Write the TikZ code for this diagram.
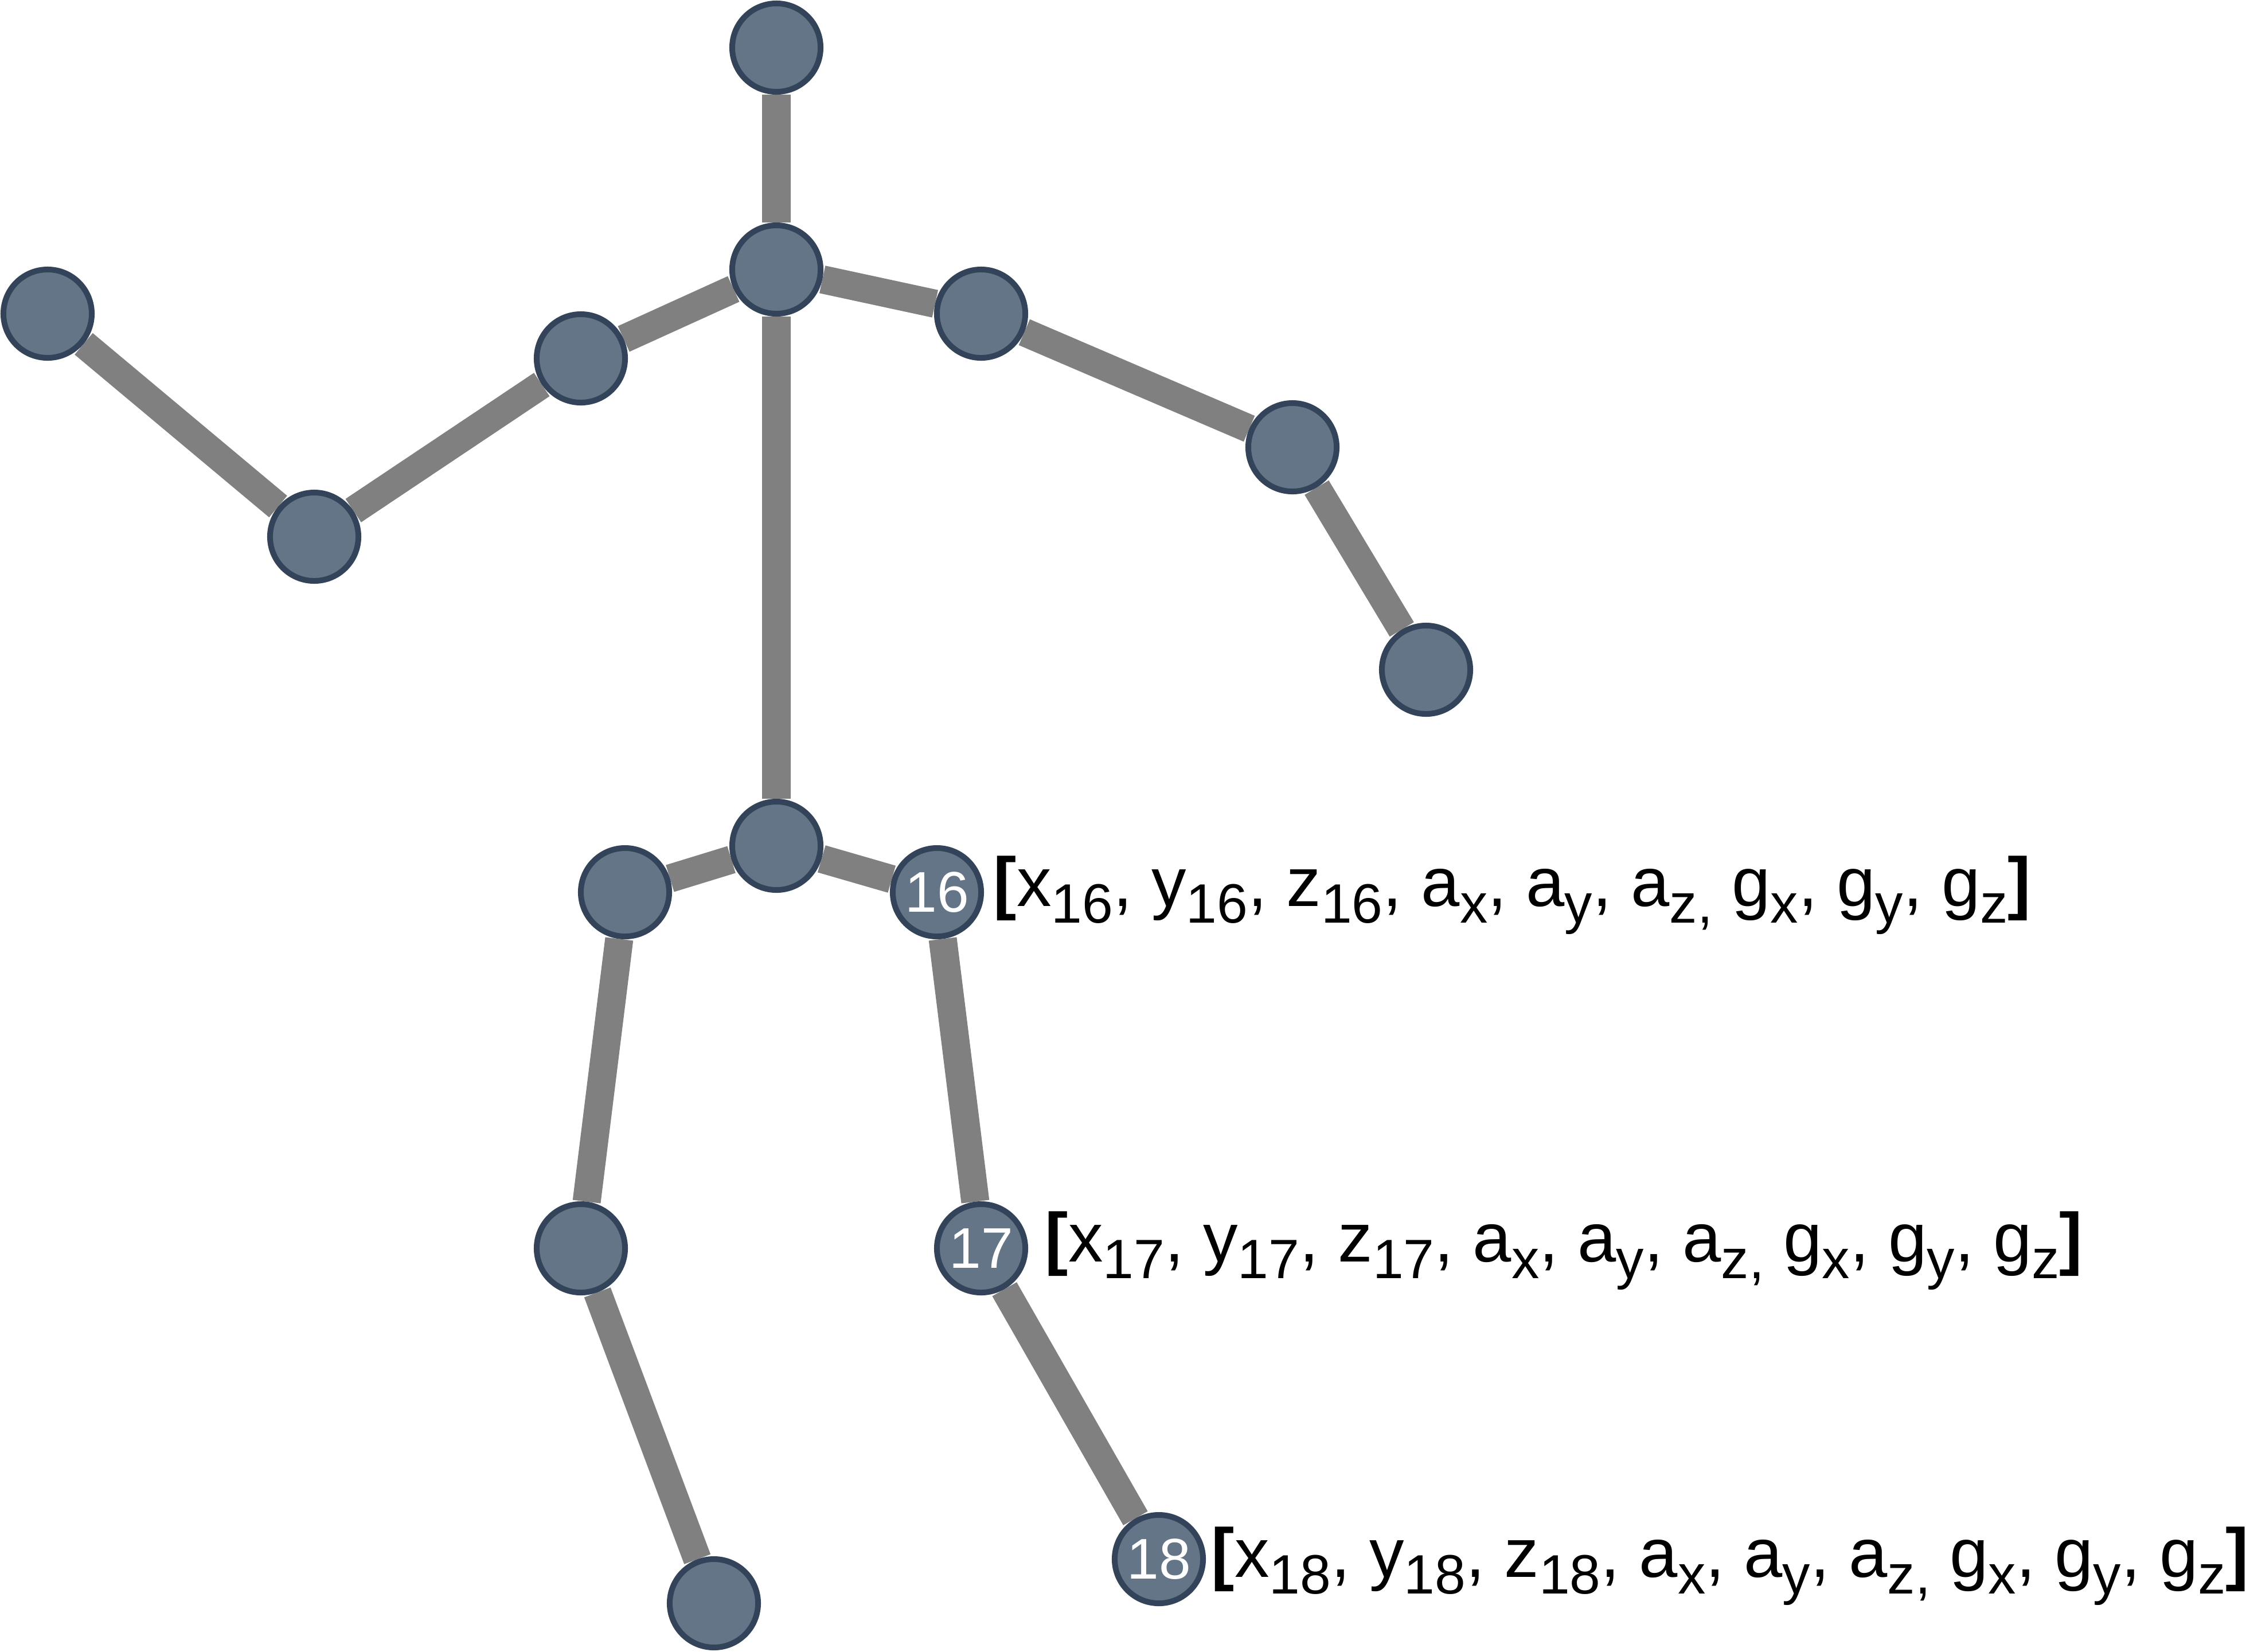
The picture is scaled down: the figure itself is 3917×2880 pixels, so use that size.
\documentclass[tikz,border=0pt]{standalone}
\usepackage{fontspec}
\setmainfont{Liberation Sans}
\usetikzlibrary{backgrounds}
\definecolor{jointfill}{RGB}{99,117,135}
\definecolor{jointline}{RGB}{51,68,90}
\definecolor{bonegray}{RGB}{128,128,128}
\newcommand\sbx[1]{\raisebox{-8.5pt}{\fontsize{27.5}{28}\selectfont #1}}
\newcommand\vecl[1]{{\fontsize{34.4}{36}\selectfont\textbf{[}x\sbx{#1}, y\sbx{#1}, z\sbx{#1}, a\sbx{x}, a\sbx{y}, a\sbx{z,} g\sbx{x}, g\sbx{y}, g\sbx{z}\textbf{]}}}
\begin{document}
\begin{tikzpicture}[x=0.01cm,y=-0.01cm,
  joint/.style={circle, fill=jointfill, draw=jointline, line width=0.1cm, minimum size=1.54cm, inner sep=0pt, text=white, font=\fontsize{28.45}{30}\selectfont},
  bone/.style={draw=bonegray, line width=0.49cm},
  veclabel/.style={anchor=base west, inner sep=0pt}]
\useasboundingbox (0,0) rectangle (3917,2880);
\node[joint] (head) at (1354,83) {};
\node[joint] (neck) at (1354,470) {};
\node[joint] (lsh) at (1013,625) {};
\node[joint] (lelb) at (548,936) {};
\node[joint] (lhand) at (83,547) {};
\node[joint] (rsh) at (1711,547) {};
\node[joint] (relb) at (2254,780) {};
\node[joint] (rhand) at (2487,1168) {};
\node[joint] (hip) at (1354,1475) {};
\node[joint] (lhip) at (1090,1556) {};
\node[joint] (lknee) at (1013,2177) {};
\node[joint] (lfoot) at (1245,2796) {};
\node[joint] (n16) at (1634,1556) {16};
\node[joint] (n17) at (1711,2177) {17};
\node[joint] (n18) at (2021,2719) {18};
\begin{scope}[on background layer]
\draw[bone] (head) -- (neck);
\draw[bone] (neck) -- (lsh);
\draw[bone] (lsh) -- (lelb);
\draw[bone] (lelb) -- (lhand);
\draw[bone] (neck) -- (rsh);
\draw[bone] (rsh) -- (relb);
\draw[bone] (relb) -- (rhand);
\draw[bone] (neck) -- (hip);
\draw[bone] (hip) -- (lhip);
\draw[bone] (lhip) -- (lknee);
\draw[bone] (lknee) -- (lfoot);
\draw[bone] (hip) -- (n16);
\draw[bone] (n16) -- (n17);
\draw[bone] (n17) -- (n18);
\end{scope}
\node[veclabel] (l16) at (1732,1580) {\vecl{16}};
\node[veclabel] (l17) at (1822,2200) {\vecl{17}};
\node[veclabel] (l18) at (2112,2750) {\vecl{18}};
\end{tikzpicture}
\end{document}
